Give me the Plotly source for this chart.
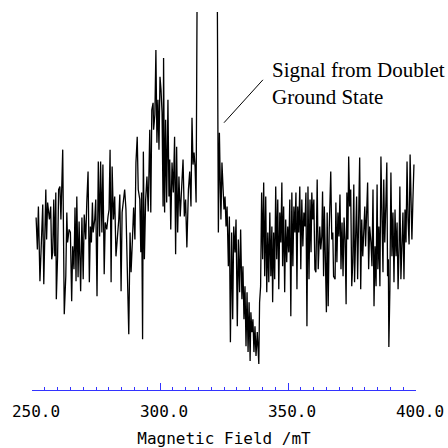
import plotly.graph_objects as go

# Field (mT) and EPR intensity (arbitrary units)
field_a = [251.6, 252.1, 252.5, 253.1, 253.8, 254.2, 254.6, 255.0, 255.4, 255.7,
           256.1, 256.8, 257.3, 257.7, 258.1, 258.5, 258.9, 259.3, 259.5, 260.0,
           260.4, 260.9, 261.3, 262.0, 262.6, 263.2, 263.6, 263.9, 264.5, 265.0,
           265.5, 265.9, 266.4, 266.8, 267.2, 267.5, 268.0, 268.4, 269.0, 269.5,
           270.0, 270.4, 271.0, 271.4, 271.9, 272.4, 272.8, 273.2, 273.6, 273.9,
           274.5, 274.9, 275.4, 275.9, 276.4, 276.8, 277.3, 277.7, 278.2, 278.6,
           279.2, 279.7, 280.1, 280.5, 280.9, 281.3, 281.8, 282.3, 282.8, 283.3,
           283.9, 284.3, 284.8, 285.2, 285.7, 286.2, 286.7, 287.2, 287.8]
signal_a = [12, -20, 23, -52, -3, 25, -55, -10, 40, -10,
            27, 10, 23, -30, -23, 30, -27, 37, -70, -27,
            40, 43, 10, 80, -85, -47, 17, -13, 0, -3,
            -72, -17, -40, 22, -52, 33, -48, 8, -62, 12,
            -50, 15, -10, 27, 58, -53, 3, -13, 27, -3,
            10, 30, -67, 68, -7, 68, -3, 65, -45, 7,
            0, 13, 20, 80, -53, 63, 10, 33, -27, -10,
            10, 35, -62, 17, 30, 40, 20, -33, -105]

field_b = [288.3, 288.7, 289.2, 289.7, 290.2, 290.6, 291.1, 291.5, 292.1, 292.5,
           292.8, 293.2, 293.5, 293.9, 294.4, 294.9, 295.4, 296.0, 296.4, 296.8,
           297.3, 297.5, 298.0, 298.4, 298.8, 299.2, 299.6, 300.0, 300.4, 300.8,
           301.2, 301.4, 301.8, 302.2, 302.6, 303.1, 303.5, 303.8, 304.2, 304.7,
           305.2, 305.7, 306.1, 306.5, 306.9, 307.4, 307.9, 308.5, 309.0, 309.5,
           310.0, 310.5, 311.1, 311.6, 312.1, 312.5, 312.9, 313.3, 313.7, 314.1]
signal_b = [-3, -43, -12, 22, -10, 67, 93, 40, 30, -23,
            37, -110, 78, -30, 30, 53, 18, 100, 17, 120,
            127, 100, 115, 180, 87, 130, 80, 153, 140, 117,
            23, 172, 17, 110, 27, 130, 33, 70, 0, 67,
            37, 93, -25, 83, -3, 53, 13, 42, 70, 13,
            30, -18, 40, 58, 23, 112, 65, 77, 63, 27]

# central doublet line, runs off the top of the frame
field_peak = [314.8, 317.6, 319.9, 322.1, 322.8, 323.2]
signal_peak = [400, 700, 600, 400, -3, 97]

field_c = [323.8, 324.2, 324.6, 325.0, 325.4, 325.8, 326.2, 326.7, 327.1,
           327.5, 328.0, 328.4, 328.8, 329.3, 329.7, 330.2, 330.6, 331.1, 331.5,
           332.0, 332.4, 332.8, 333.2, 333.6, 334.0, 334.4, 334.8, 335.2, 335.5,
           335.9, 336.3, 336.7, 337.1, 337.5, 338.0, 338.6, 338.9, 339.3, 339.7,
           340.1, 340.5, 340.9, 341.3, 341.7, 342.1, 342.5, 342.9, 343.3, 343.7,
           344.0, 344.4, 344.8, 345.2, 345.6, 346.0, 346.4, 346.8, 347.2, 347.6,
           347.9, 348.3, 348.7, 349.1, 349.5, 349.9, 350.3, 350.7, 351.1, 351.5,
           351.9, 352.3, 352.7, 353.1, 353.5, 353.8, 354.2, 354.6, 355.0, 355.4,
           355.8, 356.2, 356.6, 357.0, 357.4, 357.8, 358.2, 358.6, 359.0, 359.3,
           359.7, 360.1, 360.5]
signal_c = [10, 67, 43, 20, 33, 3, 23, -37, 13,
            -113, -3, -90, 3, -23, 10, -97, -10, -63, 0,
            -70, -37, -90, -57, -117, -63, -123, -73, -132, -83,
            -103, -90, -123, -97, -127, -103, -135, -73, -57, 37,
            -30, 47, -47, 33, -63, -3, -53, 17, -47, 3,
            -73, -3, -50, 43, -30, 30, -60, 17, -13, 47,
            -37, 23, -63, 10, -33, 3, -23, 30, -87, 37,
            -37, 23, -3, 37, -60, 23, -3, 43, -40, 30,
            -17, 17, 3, 37, -97, 43, -50, 30, -23, 37,
            10, 30, -40]

field_d = [360.9, 361.4, 361.8, 362.4, 362.8, 363.2, 363.5, 363.9, 364.2, 364.6,
           365.0, 365.3, 365.7, 366.1, 366.7, 367.1, 367.5, 367.8, 368.4, 368.7,
           369.1, 369.5, 369.9, 370.3, 370.7, 371.1, 371.5, 371.9, 372.3, 372.7,
           373.0, 373.4, 373.7, 374.1, 374.5, 374.9, 375.3, 375.7, 376.0, 376.4,
           376.8, 377.2, 377.6, 378.0, 378.4, 378.8, 379.2, 379.6, 380.0, 380.3,
           380.7, 381.1, 381.5, 381.9, 382.4, 382.8, 383.2, 383.6, 384.0, 384.4,
           384.8, 385.1, 385.5, 385.9, 386.3, 386.7, 387.1, 387.4, 387.8, 388.2,
           388.6, 388.9, 389.2, 389.4, 389.8, 390.2, 390.6, 391.0, 391.4, 391.8,
           392.2, 392.6, 393.0, 393.4, 393.7, 394.1, 394.5, 394.9, 395.3, 395.7,
           396.1, 396.5, 396.9, 397.3, 397.7, 398.0, 398.4, 398.8, 399.2]
signal_d = [-43, 50, -40, 3, -20, -7, 38, -47, 23, -52,
            -83, 17, -77, 0, 58, -10, -3, -47, -50, 27,
            -33, 17, -7, 35, -40, 7, -47, 12, -10, -75,
            37, -10, 73, 23, 40, -57, -33, 45, -53, -10,
            33, -50, 37, 72, -60, 10, -27, -3, 23, -17,
            12, 47, -40, 3, -13, -37, 40, -77, -17, -57,
            45, -40, 3, -57, 73, -10, -43, 50, -13, 23,
            67, -47, -30, -118, -60, 57, -27, 17, -53, 20,
            -27, 7, -60, -17, 43, -50, -10, 17, -50, 20,
            -13, 68, 10, -15, 75, 37, -10, 30, 65]

field = field_a + field_b + field_peak + field_c + field_d
signal = signal_a + signal_b + signal_peak + signal_c + signal_d

x_ticks = [250, 300, 350, 400]
x_tick_text = ["250.0", "300.0", "350.0", "400.0"]
annotation_text = "Signal from Doublet<br>Ground State"
axis_title = "Magnetic Field /mT"

fig = go.Figure()
fig.add_trace(go.Scatter(x=field, y=signal, mode="lines",
                         line=dict(color="black", width=1.3),
                         hoverinfo="skip", showlegend=False))

fig.add_shape(type="line", xref="x", yref="y",
              x0=325.0, y0=107, x1=340.2, y1=150,
              line=dict(color="black", width=1))
fig.add_annotation(x=342.8, y=146, xref="x", yref="y",
                   text=annotation_text, showarrow=False,
                   xanchor="left", yanchor="middle", align="left",
                   font=dict(family="Liberation Serif", size=21, color="black"))

fig.update_layout(
    width=448, height=448,
    margin=dict(l=32, r=32, t=12, b=58),
    paper_bgcolor="white", plot_bgcolor="white",
    xaxis=dict(range=[250, 400], showgrid=False, zeroline=False,
               automargin=False,
               showline=True, linecolor="#3333ff", linewidth=1,
               ticks="inside", ticklen=7, tickwidth=1, tickcolor="#3333ff",
               tickvals=x_ticks, ticktext=x_tick_text,
               ticklabelstandoff=7, ticklabelshift=4,
               minor=dict(dtick=5, ticks="inside", ticklen=3,
                          tickcolor="#3333ff", tickwidth=1, showgrid=False),
               tickfont=dict(family="DejaVu Sans Mono", size=16, color="black"),
               title=dict(text=axis_title, standoff=18,
                          font=dict(family="DejaVu Sans Mono", size=16, color="black"))),
    yaxis=dict(range=[-161, 218], visible=False, showgrid=False, zeroline=False),
)

fig.write_html("out.html")
